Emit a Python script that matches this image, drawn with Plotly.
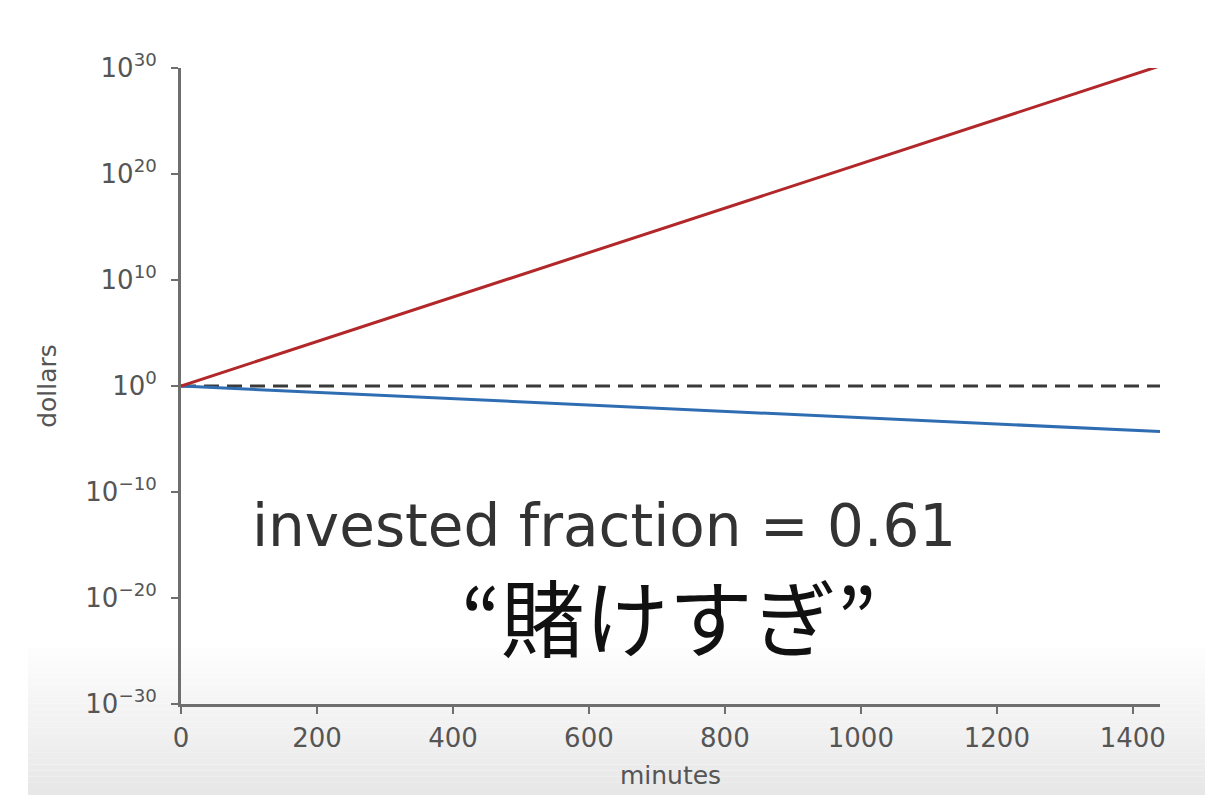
import numpy as np
import plotly.graph_objects as go

# Series (minutes vs. dollars, log scale)
minutes = [0, 1440]
aggressive = [1.0, 10 ** 30.2]      # red: grows to ~1e30
overbet = [1.0, 10 ** -4.3]          # blue: slow decline
baseline = [1.0, 1.0]                # dashed reference at $1

x_ticks = [0, 200, 400, 600, 800, 1000, 1200, 1400]
y_exps = [-30, -20, -10, 0, 10, 20, 30]
y_ticktext = ["10<sup>" + (str(e).replace("-", "−")) + "</sup>" for e in y_exps]

W, H = 1205, 807
L, R, T, B = 181, 1160, 68, 704

fig = go.Figure()
fig.add_trace(go.Scatter(x=minutes, y=baseline, mode="lines",
                         line=dict(color="#3a3a3a", width=3, dash="15px,8px"),
                         showlegend=False, hoverinfo="skip"))
fig.add_trace(go.Scatter(x=minutes, y=overbet, mode="lines",
                         line=dict(color="#2f6db3", width=3),
                         showlegend=False, hoverinfo="skip"))
fig.add_trace(go.Scatter(x=minutes, y=aggressive, mode="lines",
                         line=dict(color="#b2282a", width=3),
                         showlegend=False, hoverinfo="skip"))


def px_to_paper_x(px):
    return (px - L) / (R - L)


def px_to_paper_y(py):
    return (B - py) / (B - T)


# soft gray band across the bottom of the frame
shapes = []
y0, y1 = 648, 795
n = 24
for i in range(n):
    a = y0 + (y1 - y0) * i / n
    b = y0 + (y1 - y0) * (i + 1) / n
    t = (i + 0.5) / n
    g = int(round(253 - 22 * t))
    shapes.append(dict(type="rect", xref="paper", yref="paper", layer="below",
                       x0=px_to_paper_x(28), x1=px_to_paper_x(W),
                       y0=px_to_paper_y(b), y1=px_to_paper_y(a),
                       fillcolor=f"rgb({g},{g},{g})", line=dict(width=0)))

fig.update_layout(
    width=W, height=H,
    margin=dict(l=L, r=W - R, t=T, b=H - B),
    paper_bgcolor="white", plot_bgcolor="rgba(0,0,0,0)",
    shapes=shapes,
    font=dict(family="DejaVu Sans", color="#555555"),
    xaxis=dict(range=[0, 1440], tickvals=x_ticks, showgrid=False, zeroline=False,
               showline=True, linecolor="#6e6e6e", linewidth=3,
               ticks="outside", ticklen=7, tickwidth=2, tickcolor="#6e6e6e",
               tickfont=dict(size=26, color="#555555"), ticklabelstandoff=2,
               title=dict(text="minutes", font=dict(size=25, color="#555555"), standoff=15)),
    yaxis=dict(type="log", range=[-30, 30], tickvals=[10.0 ** e for e in y_exps],
               ticktext=y_ticktext, showgrid=False, zeroline=False,
               showline=True, linecolor="#6e6e6e", linewidth=3,
               ticks="outside", ticklen=7, tickwidth=2, tickcolor="#6e6e6e",
               tickfont=dict(size=26, color="#555555"), ticklabelstandoff=9,
               title=dict(text="dollars", font=dict(size=25, color="#555555"), standoff=22)),
    annotations=[
        dict(text="invested fraction = 0.61", xref="paper", yref="paper",
             x=px_to_paper_x(604), y=px_to_paper_y(526), xanchor="center", yanchor="middle",
             showarrow=False,
             font=dict(family="DejaVu Sans", size=58, color="#333333")),
        dict(text="“賭けすぎ”", xref="paper", yref="paper",
             x=px_to_paper_x(669), y=px_to_paper_y(614), xanchor="center", yanchor="middle",
             showarrow=False,
             font=dict(family="Noto Sans CJK JP", size=84, color="#111111")),
    ],
)

fig.write_html("out.html")
